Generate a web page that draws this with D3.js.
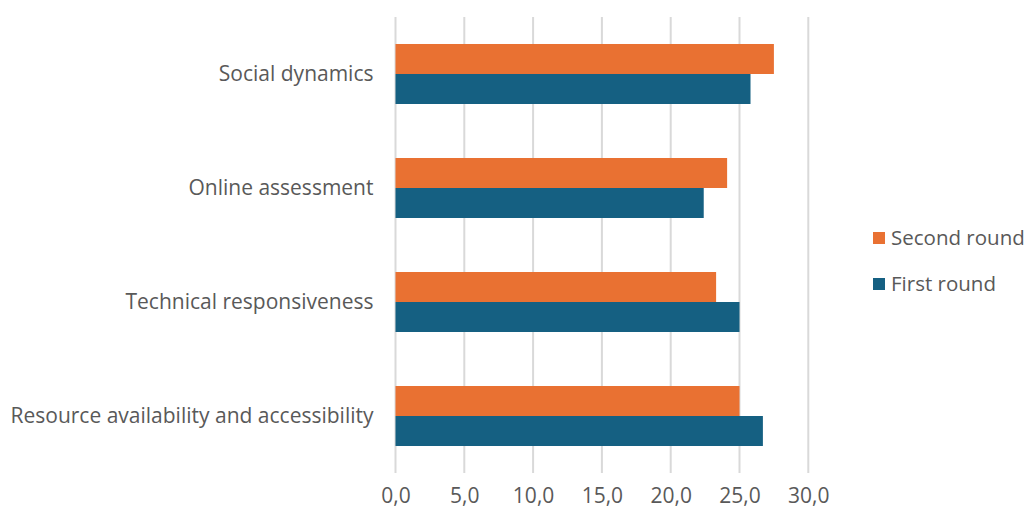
<!DOCTYPE html>
<html>
<head>
<meta charset="utf-8">
<script src="https://cdn.jsdelivr.net/npm/d3@7"></script>
<style>
  html, body { margin: 0; padding: 0; background: #fff; }
  svg { display: block; font-family: "Open Sans", sans-serif; }
</style>
</head>
<body>
<svg id="chart" width="1025" height="515"></svg>
<script>
// Survey themes, top to bottom
const categories = [
  "Social dynamics",
  "Online assessment",
  "Technical responsiveness",
  "Resource availability and accessibility"
];
const secondRound = [27.5, 24.1, 23.3, 25.0];
const firstRound  = [25.8, 22.4, 25.0, 26.7];
const seriesNames = ["Second round", "First round"];
const seriesColors = ["#E97132", "#156082"];
const xTicks = [0, 5, 10, 15, 20, 25, 30];

const svg = d3.select("#chart");
const plot = { left: 395.5, right: 808.3, top: 17, bottom: 473 };
const labelSize = 21;

const x = d3.scaleLinear().domain([0, 30]).range([plot.left, plot.right]);
const y = d3.scaleBand().domain(categories).range([plot.top, plot.bottom]).paddingInner(0.4737).paddingOuter(0.2368);
const inner = d3.scaleBand().domain(seriesNames).range([0, y.bandwidth()]);

const fmt = v => d3.format(".1f")(v).replace(".", ",");

// vertical gridlines, extended slightly below the plot
svg.append("g")
  .selectAll("line")
  .data(xTicks)
  .join("line")
  .attr("x1", d => x(d)).attr("x2", d => x(d))
  .attr("y1", plot.top).attr("y2", plot.bottom)
  .attr("stroke", "#d9d9d9")
  .attr("stroke-width", 2);

// x tick labels via d3 axis
const xAxis = svg.append("g")
  .attr("transform", `translate(0,${plot.bottom})`)
  .call(d3.axisBottom(x).tickValues(xTicks).tickFormat(fmt).tickSize(0).tickPadding(15));
xAxis.select(".domain").remove();
xAxis.selectAll("text")
  .attr("font-family", "'Open Sans', sans-serif")
  .attr("font-size", labelSize)
  .attr("fill", "#595959");

// category labels via d3 axis
const yAxis = svg.append("g")
  .attr("transform", `translate(${plot.left},0)`)
  .call(d3.axisLeft(y).tickSize(0).tickPadding(22));
yAxis.select(".domain").remove();
yAxis.selectAll("text")
  .attr("font-family", "'Open Sans', sans-serif")
  .attr("font-size", labelSize)
  .attr("fill", "#595959");

// bars
const rows = categories.map((c, i) => ({ cat: c, vals: [secondRound[i], firstRound[i]] }));
const groups = svg.append("g").selectAll("g")
  .data(rows)
  .join("g")
  .attr("transform", d => `translate(0,${y(d.cat)})`);
groups.selectAll("rect")
  .data(d => d.vals.map((v, j) => ({ v, s: seriesNames[j], c: seriesColors[j] })))
  .join("rect")
  .attr("x", x(0))
  .attr("y", d => inner(d.s))
  .attr("width", d => x(d.v) - x(0))
  .attr("height", inner.bandwidth())
  .attr("fill", d => d.c);

// legend
const legend = svg.append("g").attr("transform", "translate(873,238)");
const items = legend.selectAll("g")
  .data(seriesNames)
  .join("g")
  .attr("transform", (d, i) => `translate(0,${i * 46})`);
items.append("rect")
  .attr("x", 0).attr("y", -6)
  .attr("width", 12).attr("height", 12)
  .attr("fill", (d, i) => seriesColors[i]);
items.append("text")
  .attr("x", 18).attr("y", 0)
  .attr("dy", "0.35em")
  .attr("font-size", 20.5)
  .attr("fill", "#595959")
  .text(d => d);
</script>
</body>
</html>
